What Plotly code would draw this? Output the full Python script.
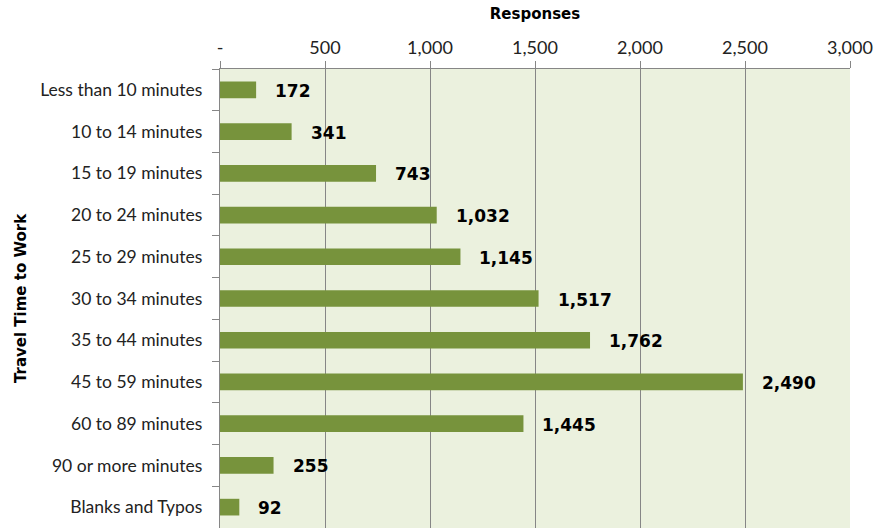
import plotly.graph_objects as go

# Travel time categories and number of responses
categories = [
    "Less than 10 minutes", "10 to 14 minutes", "15 to 19 minutes",
    "20 to 24 minutes", "25 to 29 minutes", "30 to 34 minutes",
    "35 to 44 minutes", "45 to 59 minutes", "60 to 89 minutes",
    "90 or more minutes", "Blanks and Typos",
]
responses = [172, 341, 743, 1032, 1145, 1517, 1762, 2490, 1445, 255, 92]

x_tickvals = [0, 500, 1000, 1500, 2000, 2500, 3000]
x_ticktext = ["-", "500", "1,000", "1,500", "2,000", "2,500", "3,000"]

BAR = "#77933C"
PLOT_BG = "#EBF1DE"
GRID = "#868686"
FONT = "Lato, 'Open Sans', sans-serif"
BOLD = "'DejaVu Sans', sans-serif"

fig = go.Figure(
    go.Bar(
        x=responses,
        y=categories,
        orientation="h",
        marker=dict(color=BAR, line=dict(width=0)),
        width=0.4,
        hoverinfo="x+y",
    )
)

# Value labels to the right of each bar
for cat, val in zip(categories, responses):
    fig.add_annotation(
        x=val, y=cat, text=f"<b>{val:,}</b>", showarrow=False,
        xanchor="left", xshift=17, yshift=-1,
        font=dict(family=BOLD, size=17, color="black"),
    )

fig.update_layout(
    width=893, height=529,
    margin=dict(l=220, r=43, t=69, b=1),
    paper_bgcolor="white",
    plot_bgcolor=PLOT_BG,
    showlegend=False,
    font=dict(family=FONT, size=17, color="#222222"),
    xaxis=dict(
        side="top",
        range=[0, 3000],
        tickvals=x_tickvals,
        ticktext=x_ticktext,
        ticks="outside", ticklen=7, tickcolor=GRID,
        showgrid=True, gridcolor=GRID, gridwidth=1.3,
        showline=True, linecolor=GRID, linewidth=1.3,
        zeroline=False,
        tickfont=dict(size=18, color="#222222"),
        title=dict(text="<b>Responses</b>", standoff=12,
                   font=dict(family=BOLD, size=15, color="black")),
    ),
    yaxis=dict(
        type="category",
        categoryorder="array", categoryarray=categories,
        autorange="reversed",
        tickson="boundaries",
        ticks="outside", ticklen=7, tickcolor=GRID,
        ticklabelstandoff=13,
        showgrid=False,
        showline=True, linecolor=GRID, linewidth=1.3,
        tickfont=dict(size=17.5, color="#222222"),
        title=dict(text="<b>Travel Time to Work</b>", standoff=9,
                   font=dict(family=BOLD, size=15, color="black")),
    ),
)

fig.write_html("out.html")
